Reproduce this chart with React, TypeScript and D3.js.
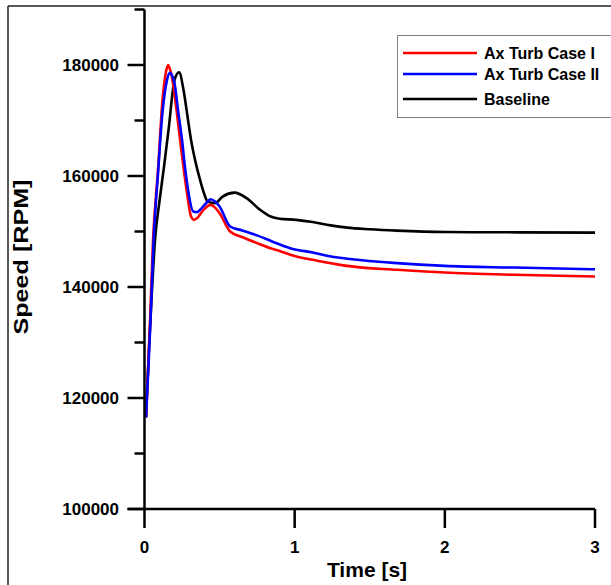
import React from "react";
import * as d3 from "d3";

const redT = [0.01, 0.025, 0.037, 0.057, 0.09, 0.12, 0.145, 0.157, 0.17, 0.19, 0.215, 0.237, 0.26, 0.28, 0.31, 0.33, 0.35, 0.39, 0.44, 0.47, 0.5, 0.57, 0.65, 0.75, 0.85, 0.9, 1.0, 1.12, 1.26, 1.35, 1.68, 2.0, 2.46, 3.0];
const redV = [116500, 126000, 134000, 148500, 161000, 173700, 179000, 180000, 179200, 176700, 171500, 166500, 161500, 157500, 152700, 152100, 152400, 153800, 154800, 154300, 153300, 150000, 149000, 147900, 146900, 146500, 145600, 144900, 144200, 143800, 143100, 142600, 142200, 141900];

const blueT = [0.01, 0.025, 0.04, 0.06, 0.09, 0.12, 0.15, 0.17, 0.185, 0.2, 0.225, 0.25, 0.27, 0.29, 0.325, 0.35, 0.37, 0.41, 0.44, 0.47, 0.5, 0.57, 0.65, 0.75, 0.85, 0.97, 1.12, 1.26, 1.35, 1.68, 2.0, 2.46, 3.0];
const blueV = [116500, 125000, 134000, 148000, 160500, 171500, 177300, 178600, 178000, 176700, 171500, 166500, 161500, 157500, 153600, 153500, 153900, 155100, 155800, 155400, 154500, 150900, 150200, 149300, 148200, 147000, 146200, 145400, 145100, 144300, 143800, 143500, 143200];

const blackT = [0.01, 0.03, 0.05, 0.07, 0.1, 0.13, 0.16, 0.2, 0.23, 0.26, 0.285, 0.31, 0.34, 0.37, 0.395, 0.42, 0.47, 0.52, 0.6, 0.68, 0.77, 0.84, 0.9, 1.01, 1.12, 1.24, 1.35, 1.5, 1.68, 2.01, 2.5, 3.0];
const blackV = [116500, 129000, 139500, 148500, 155500, 161700, 168300, 177300, 178700, 175500, 171000, 166500, 162500, 159300, 157000, 155400, 155100, 156300, 157000, 156000, 153900, 152700, 152300, 152100, 151700, 151100, 150700, 150400, 150150, 149900, 149850, 149800];

const seriesNames = ["Ax Turb Case I", "Ax Turb Case II", "Baseline"];
const seriesColors = ["#ff0000", "#0000ff", "#000000"];
const xTicks = [0, 1, 2, 3];
const yMajorTicks = [100000, 120000, 140000, 160000, 180000];
const yMinorTicks = [110000, 130000, 150000, 170000, 190000];

const FONT = "Arial, 'Liberation Sans', sans-serif";

export default function App() {
  const x = d3.scaleLinear().domain([0, 3]).range([144.5, 595]);
  const y = d3.scaleLinear().domain([100000, 190000]).range([509, 9.5]);
  const line = d3
    .line<[number, number]>()
    .x((d) => x(d[0]))
    .y((d) => y(d[1]))
    .curve(d3.curveMonotoneX);

  const series = [
    redT.map((t, i) => [t, redV[i]] as [number, number]),
    blueT.map((t, i) => [t, blueV[i]] as [number, number]),
    blackT.map((t, i) => [t, blackV[i]] as [number, number]),
  ];
  const drawOrder = [2, 0, 1];
  const x0 = x(0);
  const yBase = y(100000);

  return (
    <svg
      width={611}
      height={585}
      style={{ position: "absolute", left: 0, top: 0, background: "#fff" }}
      fontFamily={FONT}
    >
      <rect x={0} y={0} width={611} height={585} fill="#fff" />
      {/* figure frame */}
      <line x1={8} y1={6} x2={8} y2={585} stroke="#222" strokeWidth={1.5} />
      <line x1={8} y1={6} x2={611} y2={6} stroke="#222" strokeWidth={1.5} />

      {/* data */}
      {drawOrder.map((i) => (
        <path key={i} d={line(series[i]) || ""} fill="none" stroke={seriesColors[i]} strokeWidth={2.6} strokeLinejoin="round" />
      ))}

      {/* axes */}
      <line x1={x0} y1={y(190000)} x2={x0} y2={yBase} stroke="#000" strokeWidth={2.5} />
      <line x1={x0 - 17} y1={yBase} x2={x(3)} y2={yBase} stroke="#000" strokeWidth={2.5} />
      {yMajorTicks.map((v) => (
        <g key={v}>
          <line x1={x0 - 17} x2={x0} y1={y(v)} y2={y(v)} stroke="#000" strokeWidth={2.5} />
          <text x={119} y={y(v) + 6} textAnchor="end" fontSize={17} fontWeight="bold">
            {v}
          </text>
        </g>
      ))}
      {yMinorTicks.map((v) => (
        <line key={v} x1={x0 - 10} x2={x0} y1={y(v)} y2={y(v)} stroke="#000" strokeWidth={2.5} />
      ))}
      {xTicks.map((t) => (
        <g key={t}>
          <line x1={x(t)} x2={x(t)} y1={yBase} y2={yBase + 19} stroke="#000" strokeWidth={2.5} />
          <text x={x(t)} y={553} textAnchor="middle" fontSize={17} fontWeight="bold">
            {t}
          </text>
        </g>
      ))}

      {/* axis titles */}
      <text x={367} y={577} textAnchor="middle" fontSize={21} fontWeight="bold">
        Time [s]
      </text>
      <text
        transform="translate(28,257) rotate(-90)"
        textAnchor="middle"
        fontSize={21}
        fontWeight="bold"
        textLength={155}
        lengthAdjust="spacingAndGlyphs"
      >
        Speed [RPM]
      </text>

      {/* legend */}
      <rect x={397.5} y={35.5} width={230} height={82} fill="#fff" stroke="#808080" strokeWidth={1} />
      {seriesNames.map((name, i) => {
        const ly = [53, 74, 99][i];
        return (
          <g key={name}>
            <line x1={403} x2={477} y1={ly} y2={ly} stroke={seriesColors[i]} strokeWidth={2.6} />
            <text x={484} y={ly + 6} fontSize={16} fontWeight="bold">
              {name}
            </text>
          </g>
        );
      })}
    </svg>
  );
}
